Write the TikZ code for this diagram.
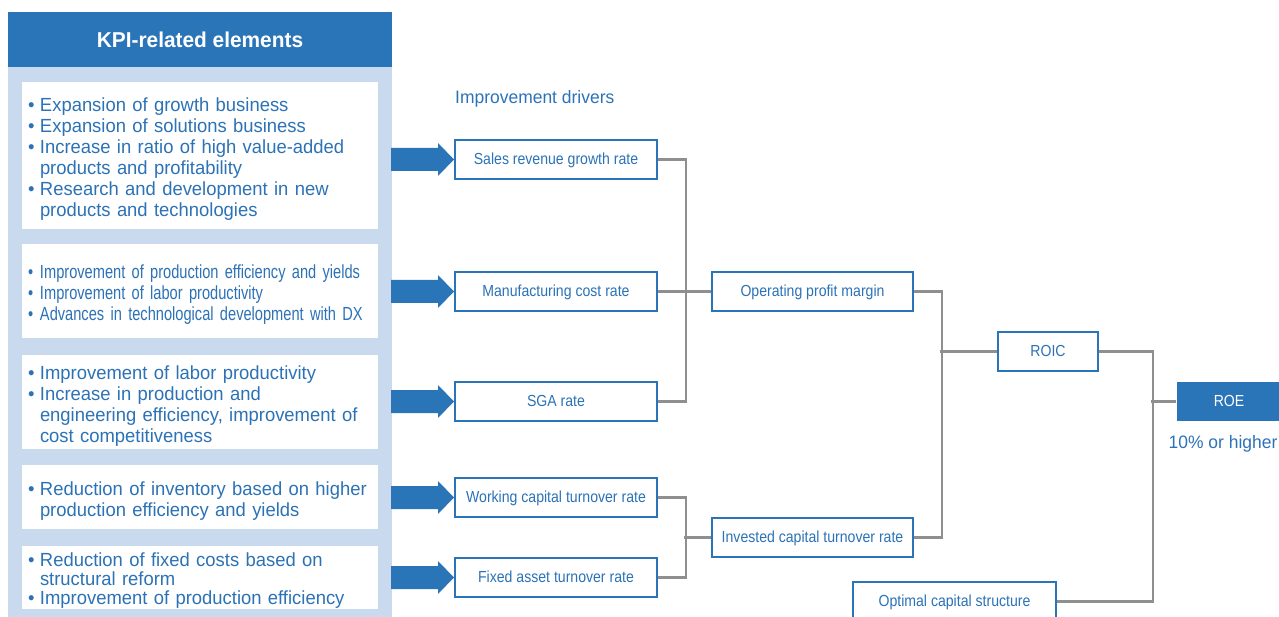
\documentclass[tikz,border=0pt]{standalone}
\usepackage{fontspec}
\setmainfont{Liberation Sans}[FakeStretch=0.97]
\newfontfamily\narrowfont{Liberation Sans}[FakeStretch=0.77]
\newfontfamily\driverfont{Liberation Sans}[FakeStretch=0.88]
\usetikzlibrary{positioning}
\definecolor{kpiblue}{HTML}{2A74B8}
\definecolor{kpilight}{HTML}{C9D9EE}
\definecolor{kpitext}{HTML}{2C72B6}
\definecolor{linkgray}{HTML}{8E8F91}
\newcommand{\kpiitem}{\par\hangindent=12pt\hangafter=1\noindent\makebox[12pt][l]{\textbullet}}
\begin{document}
\begin{tikzpicture}[x=1pt,y=-1pt,
	kpibox/.style={fill=white,minimum width=356pt,text width=344pt,inner xsep=6pt,inner ysep=0pt,
		align=left,text=kpitext,font=\fontsize{19}{21}\selectfont},
	driver/.style={draw=kpiblue,line width=2pt,fill=white,minimum width=202pt,minimum height=39pt,
		inner sep=0pt,text depth=2pt,text=kpitext,font=\driverfont\fontsize{16}{18}\selectfont},
	link/.style={draw=linkgray,line width=2.4pt}
]
\useasboundingbox (0,0) rectangle (1279,617);
% left panel
\fill[kpilight] (8,12) rectangle (392,617);
\node[fill=kpiblue,minimum width=384pt,minimum height=55pt,text=white,
	font=\bfseries\fontsize{21.5}{24}\selectfont] (kpi) at (200,39.5) {KPI-related elements};
\node[kpibox,minimum height=147pt] (b1) at (200,155.5) {
	\kpiitem Expansion of growth business
	\kpiitem Expansion of solutions business
	\kpiitem Increase in ratio of high value-added\newline products and profitability
	\kpiitem Research and development in new\newline products and technologies\par};
\node[kpibox,minimum height=94pt,font=\narrowfont\fontsize{19}{21}\selectfont] (b2) at (200,291) {
	\kpiitem Improvement of production efficiency and yields
	\kpiitem Improvement of labor productivity
	\kpiitem Advances in technological development with DX\par};
\node[kpibox,minimum height=94pt] (b3) at (200,402) {
	\kpiitem Improvement of labor productivity
	\kpiitem Increase in production and\newline engineering efficiency, improvement of\newline cost competitiveness\par};
\node[kpibox,minimum height=64pt] (b4) at (200,497) {
	\kpiitem Reduction of inventory based on higher\newline production efficiency and yields\par};
\node[kpibox,minimum height=63pt,font=\fontsize{19}{19}\selectfont] (b5) at (200,577.5) {
	\kpiitem Reduction of fixed costs based on\newline structural reform
	\kpiitem Improvement of production efficiency\par};
% drivers
\node[anchor=base west,inner sep=0pt,text=kpitext,font=\fontsize{18}{20}\selectfont] (drv) at (455,104) {Improvement drivers};
\node[driver] (sales) at (556,159.5) {Sales revenue growth rate};
\node[driver] (mfg) at (556,291.5) {Manufacturing cost rate};
\node[driver] (sga) at (556,401.5) {SGA rate};
\node[driver] (wc) at (556,497.5) {Working capital turnover rate};
\node[driver] (fa) at (556,577.5) {Fixed asset turnover rate};
\node[driver,minimum width=201pt] (opm) at (812.5,291.5) {Operating profit margin};
\node[driver,minimum width=201pt] (ict) at (812.5,537.5) {Invested capital turnover rate};
\node[driver,minimum width=100pt] (roic) at (1048,351.5) {ROIC};
\node[driver,minimum width=203pt] (ocs) at (954.5,601.5) {Optimal capital structure};
\node[driver,draw=none,fill=kpiblue,text=white,minimum width=104pt] (roe) at (1229,401.5) {ROE};
\node[below=13pt of roe,xshift=-6pt,inner sep=0pt,text=kpitext,font=\fontsize{18}{20}\selectfont] (target) {10\% or higher};
% arrows
\foreach \n in {sales,mfg,sga,wc,fa}
	\fill[kpiblue] (\n.west) -- ++(-16,-16.5) -- ++(0,5) -- ++(-47,0) -- ++(0,23) -- ++(47,0) -- ++(0,5) -- cycle;
% links
\draw[link] (sales.east) -- ++(28,0) |- (sga.east);
\draw[link] (mfg.east) -- (opm.west);
\draw[link] (wc.east) -- ++(28,0) |- (fa.east);
\draw[link] (ict.west) -- ++(-27,0);
\draw[link] (opm.east) -- ++(28,0) |- (ict.east);
\draw[link] (roic.west) -- ++(-57,0);
\draw[link] (roic.east) -- ++(54,0) |- (ocs.east);
\draw[link] (roe.west) -- ++(-25,0);
\end{tikzpicture}
\end{document}
